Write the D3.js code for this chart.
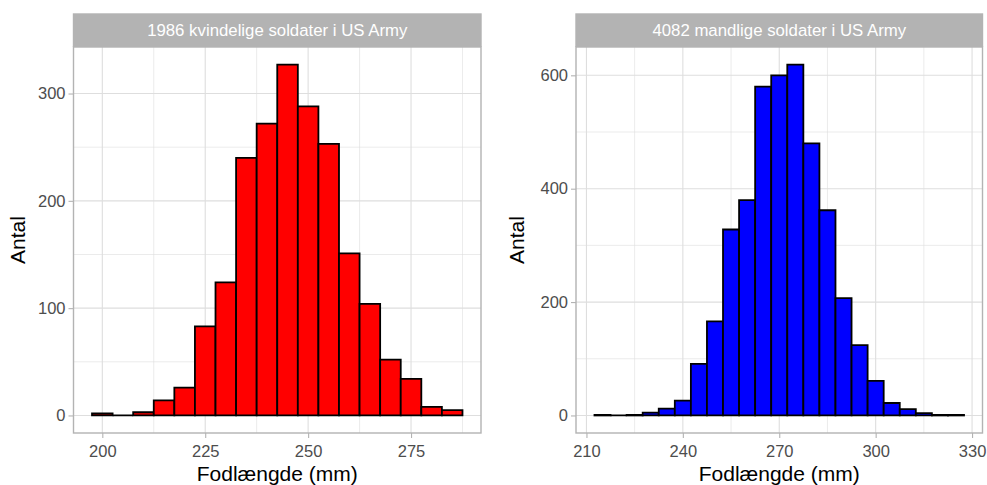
<!DOCTYPE html>
<html>
<head>
<meta charset="utf-8">
<script src="https://cdn.jsdelivr.net/npm/d3@7"></script>
<style>
  html, body { margin: 0; padding: 0; background: #ffffff; }
  svg { display: block; font-family: "Liberation Sans", Arial, sans-serif; }
</style>
</head>
<body>
<svg id="chart" width="987" height="485"></svg>
<script>
// Foot length histograms (5 mm bins), US Army soldiers
const femaleBins   = [200, 205, 210, 215, 220, 225, 230, 235, 240, 245, 250, 255, 260, 265, 270, 275, 280, 285];
const femaleCounts = [2, 0, 3, 14, 26, 83, 124, 240, 272, 327, 288, 253, 151, 104, 52, 34, 8, 5];

const maleBins   = [215, 220, 225, 230, 235, 240, 245, 250, 255, 260, 265, 270, 275, 280, 285, 290, 295, 300, 305, 310, 315, 320, 325];
const maleCounts = [1, 0, 1, 5, 12, 26, 91, 166, 328, 380, 580, 600, 619, 480, 362, 207, 124, 61, 22, 11, 4, 1, 1];

const binWidth = 5;

const femaleXTicks = [200, 225, 250, 275];
const femaleYTicks = [0, 100, 200, 300];
const maleXTicks = [210, 240, 270, 300, 330];
const maleYTicks = [0, 200, 400, 600];

const panelTitles = ["1986 kvindelige soldater i US Army", "4082 mandlige soldater i US Army"];
const xTitle = "Fodlængde (mm)";
const yTitle = "Antal";

const svg = d3.select("#chart");

const panels = [
  { title: panelTitles[0], bins: femaleBins, counts: femaleCounts, xTicks: femaleXTicks, yTicks: femaleYTicks,
    fill: "#FF0000", left: 73.5, right: 481, top: 47, bottom: 433, yLabelX: 25 },
  { title: panelTitles[1], bins: maleBins, counts: maleCounts, xTicks: maleXTicks, yTicks: maleYTicks,
    fill: "#0000FF", left: 576, right: 982.5, top: 47, bottom: 433, yLabelX: 524 }
];

const gridCol = "#DEDEDE";
const frameCol = "#B3B3B3";

function midpoints(ticks, domain) {
  const step = ticks[1] - ticks[0];
  const out = [];
  for (let i = -1; i < ticks.length; i++) {
    const m = ticks[0] + step * (i + 0.5);
    if (m > domain[0] && m < domain[1]) out.push(m);
  }
  return out;
}

panels.forEach(p => {
  const lo = d3.min(p.bins) - binWidth / 2;
  const hi = d3.max(p.bins) + binWidth / 2;
  const padX = (hi - lo) * 0.05;
  const x = d3.scaleLinear().domain([lo - padX, hi + padX]).range([p.left, p.right]);
  const yMax = d3.max(p.counts);
  const y = d3.scaleLinear().domain([-0.05 * yMax, 1.05 * yMax]).range([p.bottom, p.top]);

  const g = svg.append("g");

  // minor grid
  g.selectAll(".vminor").data(midpoints(p.xTicks, x.domain())).join("line")
    .attr("x1", d => x(d)).attr("x2", d => x(d)).attr("y1", p.top).attr("y2", p.bottom)
    .attr("stroke", gridCol).attr("stroke-width", 0.6);
  g.selectAll(".hminor").data(midpoints(p.yTicks, y.domain())).join("line")
    .attr("x1", p.left).attr("x2", p.right).attr("y1", d => y(d)).attr("y2", d => y(d))
    .attr("stroke", gridCol).attr("stroke-width", 0.6);
  // major grid
  g.selectAll(".vmajor").data(p.xTicks).join("line")
    .attr("x1", d => x(d)).attr("x2", d => x(d)).attr("y1", p.top).attr("y2", p.bottom)
    .attr("stroke", gridCol).attr("stroke-width", 1.1);
  g.selectAll(".hmajor").data(p.yTicks).join("line")
    .attr("x1", p.left).attr("x2", p.right).attr("y1", d => y(d)).attr("y2", d => y(d))
    .attr("stroke", gridCol).attr("stroke-width", 1.1);

  // bars (drawn as closed paths so empty bins still show their outline)
  g.selectAll(".bar").data(p.bins.map((b, i) => ({ b, c: p.counts[i] }))).join("path")
    .attr("d", d => {
      const x0 = x(d.b - binWidth / 2), x1 = x(d.b + binWidth / 2);
      const y0 = y(0), y1 = y(d.c);
      return `M${x0},${y0}L${x0},${y1}L${x1},${y1}L${x1},${y0}Z`;
    })
    .attr("fill", p.fill)
    .attr("stroke", "#000000")
    .attr("stroke-width", 1.8)
    .attr("stroke-linejoin", "miter");

  // panel border
  g.append("rect")
    .attr("x", p.left).attr("y", p.top)
    .attr("width", p.right - p.left).attr("height", p.bottom - p.top)
    .attr("fill", "none").attr("stroke", frameCol).attr("stroke-width", 1.4);

  // strip
  g.append("rect")
    .attr("x", p.left - 0.7).attr("y", 13.3)
    .attr("width", p.right - p.left + 1.4).attr("height", p.top - 13.3)
    .attr("fill", "#B3B3B3");
  g.append("text")
    .attr("x", (p.left + p.right) / 2).attr("y", 30.5)
    .attr("text-anchor", "middle").attr("dominant-baseline", "central")
    .attr("fill", "#ffffff").attr("font-size", "16.8px")
    .text(p.title);

  // axes
  const xAxis = g.append("g").attr("transform", `translate(0,${p.bottom})`)
    .call(d3.axisBottom(x).tickValues(p.xTicks).tickSize(5).tickPadding(7).tickFormat(d3.format("d")));
  const yAxis = g.append("g").attr("transform", `translate(${p.left},0)`)
    .call(d3.axisLeft(y).tickValues(p.yTicks).tickSize(5).tickPadding(3).tickFormat(d3.format("d")));
  [xAxis, yAxis].forEach(a => {
    a.select(".domain").remove();
    a.selectAll(".tick line").attr("stroke", frameCol).attr("stroke-width", 1.1);
    a.selectAll(".tick text").attr("fill", "#4D4D4D").attr("font-size", "16.5px")
      .attr("font-family", "Liberation Sans, Arial, sans-serif");
  });

  // axis titles
  g.append("text")
    .attr("x", (p.left + p.right) / 2).attr("y", 481)
    .attr("text-anchor", "middle").attr("fill", "#000000").attr("font-size", "21px")
    .text(xTitle);
  g.append("text")
    .attr("transform", `translate(${p.yLabelX},${(p.top + p.bottom) / 2}) rotate(-90)`)
    .attr("text-anchor", "middle").attr("fill", "#000000").attr("font-size", "21px")
    .text(yTitle);
});
</script>
</body>
</html>
